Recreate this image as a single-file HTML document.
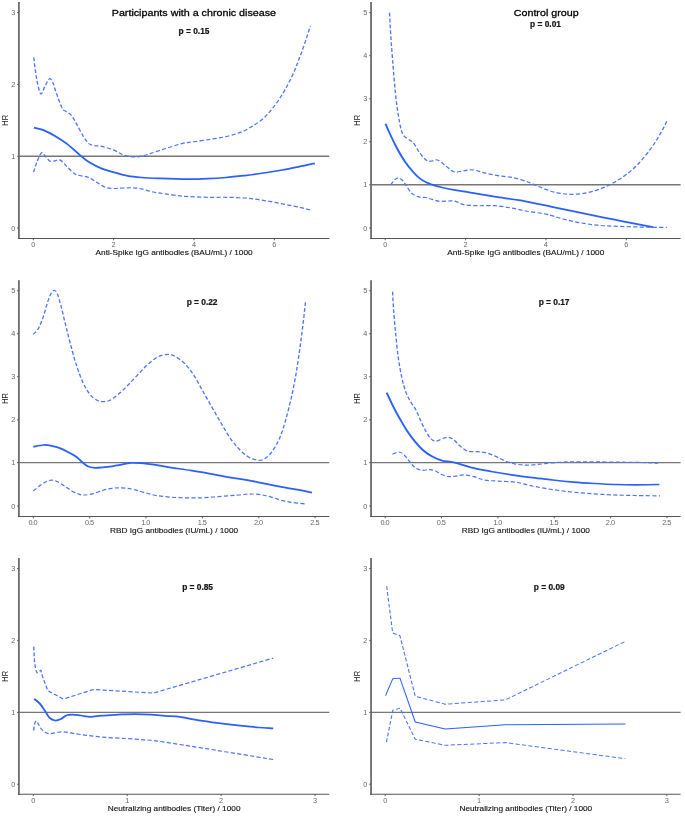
<!DOCTYPE html>
<html lang="en">
<head>
<meta charset="utf-8">
<title>HR by antibody level</title>
<style>
html,body{margin:0;padding:0;background:#fff;}
body{width:685px;height:817px;overflow:hidden;font-family:"Liberation Sans", sans-serif;}
svg{display:block;font-family:"Liberation Sans", sans-serif;will-change:transform;}
svg text{font-family:"Liberation Sans", sans-serif;}
</style>
</head>
<body>
<svg width="685" height="817" viewBox="0 0 685 817">
<rect width="685" height="817" fill="#ffffff"/>
<g transform="scale(1.1,1)">
<g><line x1="17.18" y1="156.3" x2="299.36" y2="156.3" stroke="#767676" stroke-width="1.4"/>
<path d="M30.7,57.5 C31.1,60.9 32.1,72.0 33.2,78.0 C34.2,84.0 35.7,92.5 37.0,93.8 C38.3,95.1 39.6,88.5 40.9,86.0 C42.3,83.5 43.9,79.2 45.1,78.7 C46.3,78.2 47.2,80.7 48.2,83.0 C49.2,85.3 49.7,88.6 51.1,92.7 C52.5,96.8 54.9,104.7 56.4,107.8 C57.8,110.9 58.6,110.3 60.0,111.5 C61.4,112.7 63.0,113.0 64.5,114.9 C66.1,116.8 67.3,119.6 69.2,123.1 C71.0,126.6 73.6,132.5 75.5,135.9 C77.5,139.3 79.1,142.0 80.8,143.6 C82.6,145.2 84.1,145.2 86.1,145.7 C88.0,146.2 89.7,145.7 92.5,146.4 C95.4,147.1 99.9,148.5 103.1,149.9 C106.3,151.3 108.8,153.4 111.6,154.6 C114.5,155.8 117.3,156.6 120.1,156.9 C122.9,157.2 125.8,156.8 128.6,156.2 C131.5,155.6 133.6,154.6 137.1,153.4 C140.6,152.2 145.1,150.4 149.8,148.8 C154.5,147.2 160.8,144.8 165.2,143.6 C169.5,142.4 171.6,142.5 175.8,141.8 C180.1,141.1 185.7,140.3 190.6,139.4 C195.6,138.5 200.9,137.8 205.5,136.6 C210.2,135.4 214.4,134.1 218.3,132.4 C222.2,130.7 225.4,128.9 228.9,126.6 C232.4,124.3 236.3,121.5 239.5,118.4 C242.6,115.3 245.2,111.7 248.0,107.9 C250.8,104.1 253.6,99.7 256.0,95.5 C258.4,91.3 260.4,87.2 262.4,83.0 C264.3,78.8 266.3,74.4 267.8,70.5 C269.4,66.6 270.2,64.0 271.6,59.7 C273.1,55.4 274.9,50.4 276.6,44.8 C278.4,39.1 281.3,29.0 282.2,25.8" fill="none" stroke="#4a74ff" stroke-width="1.2" stroke-dasharray="3.8 2.1" stroke-linejoin="round"/>
<path d="M30.5,172.1 C31.1,170.4 32.4,165.2 33.6,162.0 C34.8,158.8 36.4,153.7 37.7,152.8 C39.0,151.9 40.1,155.1 41.4,156.5 C42.7,157.9 44.0,160.5 45.5,161.2 C46.9,161.9 48.5,161.0 50.0,160.8 C51.5,160.6 52.8,159.0 54.5,159.9 C56.3,160.8 58.4,164.0 60.6,166.3 C62.9,168.7 65.8,172.4 68.1,174.0 C70.3,175.6 72.0,175.3 74.1,175.9 C76.2,176.5 78.5,176.4 80.8,177.5 C83.2,178.6 85.8,181.0 88.3,182.6 C90.8,184.2 93.3,186.3 95.7,187.3 C98.2,188.3 100.4,188.4 103.1,188.5 C105.7,188.6 108.6,188.1 111.6,188.0 C114.7,187.9 118.3,187.7 121.2,187.8 C124.0,188.0 125.6,188.2 128.6,188.9 C131.6,189.6 135.7,191.2 139.2,192.0 C142.7,192.8 145.7,193.2 149.8,193.8 C153.9,194.5 160.0,195.4 163.6,195.9 C167.3,196.4 167.4,196.4 171.5,196.6 C175.7,196.8 182.9,197.2 188.5,197.3 C194.2,197.4 199.9,197.2 205.5,197.3 C211.2,197.4 217.5,197.6 222.5,198.0 C227.4,198.4 231.0,199.0 235.3,199.7 C239.5,200.4 243.8,201.2 248.0,202.0 C252.2,202.8 256.5,203.9 260.7,204.8 C265.0,205.7 269.9,206.7 273.5,207.6 C277.0,208.5 280.6,209.6 282.0,210.0" fill="none" stroke="#4a74ff" stroke-width="1.2" stroke-dasharray="3.8 2.1" stroke-linejoin="round"/>
<path d="M30.9,127.7 C32.3,128.1 36.3,128.7 39.5,130.1 C42.6,131.5 46.5,133.7 50.0,135.9 C53.5,138.2 56.7,140.3 60.6,143.6 C64.5,146.9 69.8,152.6 73.4,155.8 C76.9,159.0 78.7,160.7 81.9,162.8 C85.1,164.9 89.0,167.1 92.5,168.6 C96.1,170.1 99.2,170.9 103.1,172.1 C107.0,173.3 111.7,175.0 115.9,175.9 C120.2,176.8 123.7,177.1 128.6,177.5 C133.6,177.9 138.5,178.1 145.6,178.4 C152.8,178.7 164.4,179.1 171.5,179.2 C178.7,179.2 182.9,179.0 188.5,178.7 C194.2,178.4 199.9,178.0 205.5,177.5 C211.2,177.0 216.8,176.3 222.5,175.6 C228.1,174.8 233.8,173.9 239.5,173.0 C245.1,172.1 251.1,171.0 256.5,170.0 C261.8,169.0 266.4,167.9 271.4,166.8 C276.3,165.7 283.7,163.9 286.2,163.3" fill="none" stroke="#2b60ff" stroke-width="1.75" stroke-linejoin="round" stroke-linecap="butt"/>
<line x1="17.18" y1="2.0" x2="17.18" y2="239.03" stroke="#6c6c6c" stroke-width="1.636"/>
<line x1="16.36" y1="238.5" x2="299.36" y2="238.5" stroke="#545454" stroke-width="1.05"/>
<line x1="15.55" y1="12.6" x2="17.18" y2="12.6" stroke="#545454" stroke-width="0.9"/>
<line x1="15.55" y1="84.4" x2="17.18" y2="84.4" stroke="#545454" stroke-width="0.9"/>
<line x1="15.55" y1="156.3" x2="17.18" y2="156.3" stroke="#545454" stroke-width="0.9"/>
<line x1="15.55" y1="227.95" x2="17.18" y2="227.95" stroke="#545454" stroke-width="0.9"/>
<line x1="30.27" y1="238.5" x2="30.27" y2="240.3" stroke="#545454" stroke-width="0.9"/>
<line x1="103.27" y1="238.5" x2="103.27" y2="240.3" stroke="#545454" stroke-width="0.9"/>
<line x1="176.36" y1="238.5" x2="176.36" y2="240.3" stroke="#545454" stroke-width="0.9"/>
<line x1="249.45" y1="238.5" x2="249.45" y2="240.3" stroke="#545454" stroke-width="0.9"/>
<text x="158.27" y="255.0" text-anchor="middle" font-size="7.52" fill="#111" stroke="#111" stroke-width="0.12">Anti-Spike IgG antibodies (BAU/mL) / 1000</text>
<text transform="translate(6.82,120.2) rotate(-90)" text-anchor="middle" font-size="7.52" fill="#1a1a1a">HR</text>
<text x="176.27" y="16.3" text-anchor="middle" font-size="9.75" fill="#000" stroke="#000" stroke-width="0.28">Participants with a chronic disease</text></g>
<g><line x1="337.32" y1="184.8" x2="618.73" y2="184.8" stroke="#767676" stroke-width="1.4"/>
<path d="M354.1,12.8 C354.3,16.5 354.7,26.2 355.2,35.0 C355.7,43.8 356.6,55.7 357.3,65.4 C358.0,75.1 358.7,85.2 359.5,93.4 C360.2,101.6 361.1,108.5 362.0,114.5 C362.9,120.5 363.7,125.9 364.7,129.6 C365.7,133.3 366.1,134.5 367.9,136.7 C369.7,138.8 373.1,139.8 375.4,142.5 C377.7,145.2 379.6,150.0 381.7,153.0 C383.8,156.0 386.3,159.4 388.1,160.7 C389.9,162.0 391.1,161.1 392.7,161.0 C394.3,160.9 395.8,159.4 397.6,160.0 C399.5,160.6 401.5,162.8 404.0,164.7 C406.5,166.6 409.7,170.6 412.5,171.7 C415.4,172.8 418.2,171.3 421.0,171.0 C423.8,170.7 426.3,169.5 429.5,169.8 C432.6,170.1 436.2,171.9 440.1,172.9 C444.0,173.9 448.6,174.9 452.8,175.7 C457.1,176.5 461.0,176.4 465.6,177.5 C470.3,178.6 476.2,180.5 480.8,182.3 C485.4,184.1 489.1,186.5 493.3,188.2 C497.4,189.9 501.6,191.6 505.7,192.6 C509.9,193.6 514.1,194.2 518.3,194.3 C522.4,194.4 526.6,194.0 530.7,193.3 C534.9,192.6 539.0,191.5 543.2,189.9 C547.3,188.3 551.5,186.4 555.6,184.0 C559.8,181.6 564.0,178.9 568.2,175.5 C572.3,172.1 576.5,168.4 580.6,163.5 C584.8,158.6 589.7,151.5 593.1,146.3 C596.5,141.2 598.7,136.8 600.9,132.6 C603.1,128.4 605.3,123.2 606.2,121.3" fill="none" stroke="#4a74ff" stroke-width="1.2" stroke-dasharray="3.8 2.1" stroke-linejoin="round"/>
<path d="M355.3,184.8 C355.8,184.0 357.5,181.2 358.6,180.0 C359.8,178.8 361.0,177.8 362.1,177.8 C363.2,177.8 364.3,178.8 365.5,180.0 C366.6,181.2 367.3,182.6 368.8,184.8 C370.3,187.0 372.4,191.4 374.4,193.4 C376.3,195.4 378.6,196.2 380.7,196.9 C382.8,197.6 385.0,197.1 387.1,197.5 C389.2,197.9 391.4,199.0 393.5,199.6 C395.7,200.2 397.5,201.1 399.9,201.3 C402.3,201.5 405.4,201.0 407.8,201.0 C410.2,201.0 411.9,200.7 414.2,201.3 C416.5,201.9 418.2,203.9 421.5,204.6 C424.8,205.3 429.3,205.5 434.0,205.7 C438.7,205.9 444.4,205.3 449.6,205.7 C454.8,206.1 460.0,207.1 465.2,208.1 C470.4,209.1 475.6,210.5 480.8,211.5 C486.0,212.5 491.3,212.9 496.5,214.2 C501.7,215.4 506.8,217.6 512.0,219.0 C517.2,220.4 522.4,221.8 527.6,222.8 C532.8,223.8 538.0,224.6 543.2,225.2 C548.4,225.8 553.1,225.9 558.8,226.2 C564.5,226.5 571.7,226.7 577.5,226.9 C583.2,227.1 588.3,227.2 593.1,227.3 C597.9,227.4 604.0,227.3 606.2,227.3" fill="none" stroke="#4a74ff" stroke-width="1.2" stroke-dasharray="3.8 2.1" stroke-linejoin="round"/>
<path d="M350.5,123.8 C351.2,125.8 353.3,131.2 355.2,135.5 C357.0,139.8 359.4,145.2 361.5,149.5 C363.7,153.8 365.6,157.5 367.9,161.2 C370.2,164.9 372.9,168.7 375.4,171.7 C377.8,174.7 380.2,177.3 382.8,179.4 C385.5,181.5 388.1,182.8 391.3,184.1 C394.5,185.4 398.4,186.6 401.9,187.5 C405.5,188.4 408.2,189.0 412.5,189.8 C416.9,190.7 421.6,191.4 427.8,192.6 C434.0,193.8 442.4,195.4 449.6,196.7 C456.9,198.0 464.2,198.8 471.5,200.2 C478.7,201.5 486.0,203.2 493.3,204.8 C500.5,206.4 507.8,208.2 515.1,209.9 C522.4,211.6 529.7,213.3 537.0,214.9 C544.3,216.5 551.5,218.1 558.8,219.7 C566.1,221.3 574.8,223.1 580.6,224.3 C586.5,225.5 591.5,226.6 593.7,227.1" fill="none" stroke="#2b60ff" stroke-width="1.75" stroke-linejoin="round" stroke-linecap="butt"/>
<line x1="337.32" y1="2.0" x2="337.32" y2="239.03" stroke="#6c6c6c" stroke-width="1.636"/>
<line x1="336.50" y1="238.5" x2="618.73" y2="238.5" stroke="#545454" stroke-width="1.05"/>
<line x1="335.68" y1="12.6" x2="337.32" y2="12.6" stroke="#545454" stroke-width="0.9"/>
<line x1="335.68" y1="55.65" x2="337.32" y2="55.65" stroke="#545454" stroke-width="0.9"/>
<line x1="335.68" y1="98.7" x2="337.32" y2="98.7" stroke="#545454" stroke-width="0.9"/>
<line x1="335.68" y1="141.75" x2="337.32" y2="141.75" stroke="#545454" stroke-width="0.9"/>
<line x1="335.68" y1="184.8" x2="337.32" y2="184.8" stroke="#545454" stroke-width="0.9"/>
<line x1="335.68" y1="227.95" x2="337.32" y2="227.95" stroke="#545454" stroke-width="0.9"/>
<line x1="350.18" y1="238.5" x2="350.18" y2="240.3" stroke="#545454" stroke-width="0.9"/>
<line x1="423.27" y1="238.5" x2="423.27" y2="240.3" stroke="#545454" stroke-width="0.9"/>
<line x1="496.27" y1="238.5" x2="496.27" y2="240.3" stroke="#545454" stroke-width="0.9"/>
<line x1="569.36" y1="238.5" x2="569.36" y2="240.3" stroke="#545454" stroke-width="0.9"/>
<text x="478.02" y="255.0" text-anchor="middle" font-size="7.52" fill="#111" stroke="#111" stroke-width="0.12">Anti-Spike IgG antibodies (BAU/mL) / 1000</text>
<text transform="translate(326.95,120.2) rotate(-90)" text-anchor="middle" font-size="7.52" fill="#1a1a1a">HR</text>
<text x="496.55" y="16.3" text-anchor="middle" font-size="9.75" fill="#000" stroke="#000" stroke-width="0.28">Control group</text></g>
<g><line x1="17.18" y1="462.65" x2="299.36" y2="462.65" stroke="#767676" stroke-width="1.4"/>
<path d="M30.3,334.4 C31.1,333.3 33.7,330.9 35.2,327.9 C36.7,324.9 38.0,320.7 39.5,316.2 C40.9,311.7 42.4,304.9 43.6,301.0 C44.9,297.1 45.9,294.6 46.8,292.8 C47.8,291.1 48.5,290.3 49.4,290.5 C50.3,290.7 51.2,291.5 52.2,294.0 C53.2,296.5 54.1,300.6 55.4,305.7 C56.6,310.8 58.1,318.2 59.5,324.4 C61.0,330.6 62.2,336.5 63.8,343.1 C65.4,349.7 67.2,357.5 69.2,364.1 C71.1,370.7 73.4,377.7 75.5,382.8 C77.7,387.9 79.8,391.6 81.9,394.5 C84.0,397.4 86.3,399.1 88.3,400.3 C90.2,401.5 91.6,401.7 93.5,401.7 C95.5,401.7 97.6,401.5 99.9,400.3 C102.2,399.1 104.7,396.9 107.4,394.5 C110.0,392.1 113.1,388.7 115.9,385.6 C118.7,382.5 121.5,379.1 124.4,375.8 C127.2,372.5 130.0,368.9 132.8,366.0 C135.7,363.1 138.9,360.1 141.4,358.3 C143.8,356.5 145.8,355.9 147.7,355.2 C149.7,354.5 151.2,354.2 153.0,354.3 C154.8,354.4 156.0,354.5 158.4,355.9 C160.7,357.3 164.4,359.8 167.3,362.9 C170.2,366.0 173.0,369.9 175.8,374.6 C178.7,379.3 181.5,385.6 184.3,391.0 C187.1,396.4 189.9,401.9 192.7,407.3 C195.6,412.8 198.4,418.4 201.3,423.7 C204.1,428.9 206.9,434.4 209.7,438.8 C212.6,443.2 215.4,447.0 218.3,450.1 C221.1,453.2 223.9,455.8 226.7,457.5 C229.6,459.2 232.8,460.2 235.3,460.3 C237.8,460.4 239.5,459.6 241.6,458.0 C243.8,456.4 245.9,453.9 248.0,450.5 C250.1,447.1 252.4,442.8 254.4,437.7 C256.3,432.6 257.9,427.0 259.6,420.2 C261.4,413.4 263.4,404.6 265.0,396.8 C266.6,389.0 268.0,381.2 269.2,373.4 C270.4,365.6 271.4,357.9 272.4,350.1 C273.4,342.3 274.3,334.7 275.2,326.7 C276.1,318.7 277.3,306.3 277.7,302.2" fill="none" stroke="#4a74ff" stroke-width="1.2" stroke-dasharray="3.8 2.1" stroke-linejoin="round"/>
<path d="M30.3,490.9 C31.3,490.0 34.7,486.9 36.6,485.3 C38.6,483.7 40.5,482.4 42.2,481.5 C43.9,480.6 45.3,480.1 47.0,480.1 C48.7,480.2 50.6,480.8 52.5,481.8 C54.5,482.8 56.8,484.7 58.9,486.2 C61.0,487.7 63.2,489.6 65.3,490.9 C67.4,492.2 69.8,493.4 71.6,494.1 C73.5,494.8 74.6,495.0 76.5,495.0 C78.3,495.0 80.7,494.6 82.8,494.1 C84.9,493.6 87.1,492.7 89.2,492.0 C91.3,491.3 93.4,490.3 95.5,489.7 C97.7,489.1 99.9,488.6 101.9,488.3 C103.9,488.0 105.3,487.8 107.5,487.8 C109.6,487.8 112.3,487.9 114.8,488.2 C117.3,488.5 119.5,488.9 122.3,489.7 C125.1,490.4 128.1,491.7 131.5,492.7 C135.0,493.7 138.7,494.9 142.7,495.6 C146.8,496.4 151.4,496.8 155.7,497.2 C160.1,497.6 164.4,497.7 168.7,497.8 C173.1,497.9 177.4,497.9 181.7,497.8 C186.1,497.7 190.4,497.3 194.7,497.0 C199.1,496.7 204.0,496.1 207.7,495.8 C211.5,495.5 214.2,495.3 217.1,495.0 C220.0,494.7 222.3,494.2 225.0,494.1 C227.7,494.0 230.3,493.9 233.0,494.1 C235.7,494.3 238.3,494.9 240.9,495.5 C243.6,496.1 246.2,497.0 248.9,497.9 C251.6,498.8 254.3,499.9 256.9,500.6 C259.6,501.3 262.2,501.8 264.8,502.3 C267.5,502.8 270.6,503.1 272.8,503.4 C275.0,503.7 277.1,504.0 277.9,504.1" fill="none" stroke="#4a74ff" stroke-width="1.2" stroke-dasharray="3.8 2.1" stroke-linejoin="round"/>
<path d="M30.3,446.9 C31.8,446.6 36.7,445.1 39.6,445.0 C42.6,444.9 45.3,445.5 47.9,446.1 C50.6,446.7 53.0,447.5 55.5,448.6 C58.1,449.7 60.9,451.5 63.3,452.9 C65.6,454.3 67.7,455.5 69.6,457.0 C71.5,458.5 73.0,460.4 74.6,462.0 C76.3,463.6 77.7,465.3 79.6,466.3 C81.5,467.3 83.5,467.7 86.1,467.8 C88.7,467.9 92.2,467.4 95.1,467.1 C98.0,466.8 100.9,466.5 103.3,466.1 C105.6,465.7 106.7,465.4 109.3,464.9 C111.8,464.4 115.4,463.2 118.5,462.9 C121.7,462.6 123.9,462.7 127.9,463.1 C131.9,463.5 138.1,464.4 142.7,465.1 C147.4,465.9 150.5,466.7 155.7,467.6 C161.0,468.5 168.2,469.6 174.4,470.7 C180.6,471.8 186.7,472.9 192.9,474.1 C199.1,475.3 206.1,476.8 211.5,477.8 C216.8,478.8 220.1,479.1 225.0,480.1 C229.9,481.1 235.6,482.4 240.9,483.6 C246.2,484.8 251.6,486.0 256.9,487.1 C262.2,488.2 268.4,489.3 272.8,490.2 C277.3,491.1 281.8,492.3 283.6,492.7" fill="none" stroke="#2b60ff" stroke-width="1.75" stroke-linejoin="round" stroke-linecap="butt"/>
<line x1="17.18" y1="280.2" x2="17.18" y2="517.02" stroke="#6c6c6c" stroke-width="1.636"/>
<line x1="16.36" y1="516.5" x2="299.36" y2="516.5" stroke="#545454" stroke-width="1.05"/>
<line x1="15.55" y1="290.7" x2="17.18" y2="290.7" stroke="#545454" stroke-width="0.9"/>
<line x1="15.55" y1="333.7" x2="17.18" y2="333.7" stroke="#545454" stroke-width="0.9"/>
<line x1="15.55" y1="376.7" x2="17.18" y2="376.7" stroke="#545454" stroke-width="0.9"/>
<line x1="15.55" y1="419.8" x2="17.18" y2="419.8" stroke="#545454" stroke-width="0.9"/>
<line x1="15.55" y1="462.65" x2="17.18" y2="462.65" stroke="#545454" stroke-width="0.9"/>
<line x1="15.55" y1="505.95" x2="17.18" y2="505.95" stroke="#545454" stroke-width="0.9"/>
<line x1="30.27" y1="516.5" x2="30.27" y2="518.3" stroke="#545454" stroke-width="0.9"/>
<line x1="81.55" y1="516.5" x2="81.55" y2="518.3" stroke="#545454" stroke-width="0.9"/>
<line x1="132.73" y1="516.5" x2="132.73" y2="518.3" stroke="#545454" stroke-width="0.9"/>
<line x1="184.00" y1="516.5" x2="184.00" y2="518.3" stroke="#545454" stroke-width="0.9"/>
<line x1="235.27" y1="516.5" x2="235.27" y2="518.3" stroke="#545454" stroke-width="0.9"/>
<line x1="286.45" y1="516.5" x2="286.45" y2="518.3" stroke="#545454" stroke-width="0.9"/>
<text x="158.27" y="533.0" text-anchor="middle" font-size="7.52" fill="#111" stroke="#111" stroke-width="0.12">RBD IgG antibodies (IU/mL) / 1000</text>
<text transform="translate(6.82,398.4) rotate(-90)" text-anchor="middle" font-size="7.52" fill="#1a1a1a">HR</text></g>
<g><line x1="337.32" y1="462.65" x2="618.73" y2="462.65" stroke="#767676" stroke-width="1.4"/>
<path d="M356.9,291.7 C357.0,294.4 357.3,301.4 357.7,308.0 C358.2,314.6 358.7,323.2 359.5,331.4 C360.2,339.6 361.0,349.3 362.0,357.1 C363.0,364.9 364.2,372.3 365.4,378.1 C366.5,383.9 367.7,388.2 369.0,392.1 C370.3,396.0 371.6,398.4 373.2,401.5 C374.8,404.6 377.0,407.5 378.5,410.8 C380.1,414.1 381.3,418.1 382.7,421.5 C384.2,424.9 385.7,428.6 387.3,431.5 C388.8,434.4 390.3,437.3 391.9,438.9 C393.5,440.5 394.9,441.3 396.7,441.2 C398.6,441.1 401.2,438.8 403.1,438.2 C404.9,437.6 406.2,437.1 407.8,437.4 C409.4,437.7 410.9,438.5 412.6,439.9 C414.4,441.3 416.1,444.1 418.2,446.0 C420.3,447.9 422.7,450.2 425.3,451.2 C427.9,452.1 430.9,451.4 433.7,451.7 C436.6,452.0 439.4,452.1 442.3,452.9 C445.1,453.7 447.9,455.0 450.7,456.4 C453.6,457.8 456.4,459.8 459.3,461.0 C462.1,462.2 464.9,463.1 467.7,463.8 C470.5,464.5 473.5,464.8 476.2,465.0 C478.8,465.2 480.8,465.2 483.6,465.0 C486.5,464.8 489.6,464.3 493.3,463.9 C497.0,463.5 501.6,462.8 505.7,462.5 C509.9,462.2 512.5,462.0 518.3,461.9 C524.0,461.8 532.3,461.8 540.1,461.9 C547.9,461.9 557.7,462.1 565.0,462.2 C572.3,462.3 578.2,462.3 583.7,462.5 C589.3,462.7 595.9,463.1 598.4,463.2" fill="none" stroke="#4a74ff" stroke-width="1.2" stroke-dasharray="3.8 2.1" stroke-linejoin="round"/>
<path d="M356.9,454.1 C357.8,453.8 360.7,451.9 362.5,452.0 C364.2,452.1 365.5,453.0 367.2,454.7 C368.9,456.4 371.1,460.0 372.8,462.2 C374.5,464.4 375.7,466.4 377.5,467.8 C379.4,469.2 381.8,470.1 383.9,470.4 C386.0,470.7 388.3,469.5 390.3,469.6 C392.3,469.7 394.0,470.2 395.9,471.0 C397.8,471.8 399.5,473.6 401.5,474.5 C403.4,475.4 405.7,476.3 407.8,476.6 C409.9,476.9 411.9,476.5 414.2,476.2 C416.5,475.9 418.8,474.8 421.5,474.9 C424.3,475.0 427.8,475.8 430.9,476.6 C434.0,477.5 436.6,479.2 440.3,480.0 C443.9,480.8 448.0,480.8 452.7,481.1 C457.4,481.5 463.7,481.4 468.4,482.1 C473.0,482.8 476.1,484.1 480.8,485.2 C485.5,486.3 490.7,487.6 496.5,488.6 C502.2,489.6 508.9,490.6 515.1,491.4 C521.3,492.2 527.1,492.8 533.8,493.4 C540.6,494.0 548.4,494.4 555.6,494.8 C562.9,495.2 570.1,495.3 577.5,495.5 C584.8,495.7 596.2,495.8 600.0,495.8" fill="none" stroke="#4a74ff" stroke-width="1.2" stroke-dasharray="3.8 2.1" stroke-linejoin="round"/>
<path d="M351.5,392.6 C352.5,394.9 355.3,401.7 357.3,406.1 C359.3,410.5 361.5,414.9 363.6,419.0 C365.8,423.1 367.7,426.9 370.0,430.7 C372.3,434.5 375.0,438.6 377.5,441.9 C379.9,445.2 382.3,448.0 384.9,450.5 C387.6,453.0 390.5,455.1 393.4,456.8 C396.2,458.5 398.7,459.7 401.9,460.6 C405.1,461.5 408.2,461.3 412.5,462.4 C416.9,463.5 422.2,465.8 427.8,467.3 C433.5,468.8 440.3,470.2 446.5,471.5 C452.8,472.8 459.0,473.9 465.2,474.9 C471.4,475.9 477.7,476.8 483.9,477.6 C490.2,478.5 496.4,479.2 502.6,480.0 C508.9,480.8 515.1,481.5 521.4,482.1 C527.6,482.7 533.8,483.1 540.1,483.5 C546.3,483.9 552.6,484.3 558.8,484.5 C565.0,484.7 570.7,484.8 577.5,484.8 C584.2,484.8 595.7,484.6 599.4,484.5" fill="none" stroke="#2b60ff" stroke-width="1.75" stroke-linejoin="round" stroke-linecap="butt"/>
<line x1="337.32" y1="280.2" x2="337.32" y2="517.02" stroke="#6c6c6c" stroke-width="1.636"/>
<line x1="336.50" y1="516.5" x2="618.73" y2="516.5" stroke="#545454" stroke-width="1.05"/>
<line x1="335.68" y1="290.7" x2="337.32" y2="290.7" stroke="#545454" stroke-width="0.9"/>
<line x1="335.68" y1="333.7" x2="337.32" y2="333.7" stroke="#545454" stroke-width="0.9"/>
<line x1="335.68" y1="376.7" x2="337.32" y2="376.7" stroke="#545454" stroke-width="0.9"/>
<line x1="335.68" y1="419.8" x2="337.32" y2="419.8" stroke="#545454" stroke-width="0.9"/>
<line x1="335.68" y1="462.65" x2="337.32" y2="462.65" stroke="#545454" stroke-width="0.9"/>
<line x1="335.68" y1="505.95" x2="337.32" y2="505.95" stroke="#545454" stroke-width="0.9"/>
<line x1="350.18" y1="516.5" x2="350.18" y2="518.3" stroke="#545454" stroke-width="0.9"/>
<line x1="401.36" y1="516.5" x2="401.36" y2="518.3" stroke="#545454" stroke-width="0.9"/>
<line x1="452.64" y1="516.5" x2="452.64" y2="518.3" stroke="#545454" stroke-width="0.9"/>
<line x1="503.82" y1="516.5" x2="503.82" y2="518.3" stroke="#545454" stroke-width="0.9"/>
<line x1="555.09" y1="516.5" x2="555.09" y2="518.3" stroke="#545454" stroke-width="0.9"/>
<line x1="606.36" y1="516.5" x2="606.36" y2="518.3" stroke="#545454" stroke-width="0.9"/>
<text x="478.02" y="533.0" text-anchor="middle" font-size="7.52" fill="#111" stroke="#111" stroke-width="0.12">RBD IgG antibodies (IU/mL) / 1000</text>
<text transform="translate(326.95,398.4) rotate(-90)" text-anchor="middle" font-size="7.52" fill="#1a1a1a">HR</text></g>
<g><line x1="17.18" y1="712.4" x2="299.36" y2="712.4" stroke="#767676" stroke-width="1.4"/>
<path d="M30.7,646.6 L31.3,660.2 L32.3,668.9 L33.6,672.9 L37.1,670.2 L38.6,676.4 L43.5,690.7 L57.5,699.1 L84.8,689.5 L139.4,693.1 L248.4,658.1" fill="none" stroke="#4a74ff" stroke-width="1.2" stroke-dasharray="3.8 2.1" stroke-linejoin="round"/>
<path d="M30.6,730.5 C30.8,729.4 31.0,725.6 31.5,724.0 C31.9,722.4 32.5,721.0 33.1,721.0 C33.7,721.0 34.2,722.9 35.0,724.3 C35.8,725.7 36.6,728.0 38.1,729.6 C39.6,731.2 41.8,733.1 44.0,733.6 C46.2,734.1 48.8,732.9 51.0,732.6 C53.2,732.3 54.8,731.7 57.5,731.8 C60.1,731.9 63.2,732.8 66.9,733.4 C70.6,734.0 74.9,734.9 79.6,735.5 C84.4,736.1 89.9,736.8 95.5,737.3 C101.2,737.8 108.2,738.1 113.7,738.5 C119.2,738.9 124.4,739.2 128.6,739.6 C132.9,740.0 133.5,739.8 139.4,740.6 C145.2,741.4 145.5,741.4 163.6,744.5 C181.8,747.6 234.2,757.0 248.4,759.5" fill="none" stroke="#4a74ff" stroke-width="1.2" stroke-dasharray="3.8 2.1" stroke-linejoin="round"/>
<path d="M31.0,698.8 C31.9,699.6 34.5,701.6 36.2,703.6 C37.8,705.6 39.4,708.5 40.9,710.9 C42.4,713.3 43.6,716.3 45.2,717.9 C46.7,719.5 48.5,720.3 50.2,720.5 C51.9,720.7 53.5,719.9 55.3,719.0 C57.0,718.1 58.9,716.0 60.6,715.3 C62.4,714.5 63.7,714.5 65.9,714.5 C68.1,714.5 70.9,715.1 73.6,715.5 C76.4,715.9 79.1,716.8 82.3,716.8 C85.4,716.8 88.4,716.0 92.5,715.6 C96.7,715.2 102.4,714.9 107.4,714.6 C112.3,714.4 117.3,714.1 122.3,714.1 C127.2,714.1 132.5,714.3 137.1,714.6 C141.7,714.9 145.4,715.4 149.8,715.8 C154.2,716.2 159.3,716.3 163.6,716.9 C168.0,717.5 170.3,718.3 175.8,719.3 C181.4,720.3 189.9,721.8 197.0,722.8 C204.1,723.8 211.9,724.8 218.3,725.6 C224.7,726.4 230.3,727.0 235.3,727.5 C240.3,728.0 246.2,728.2 248.4,728.4" fill="none" stroke="#2b60ff" stroke-width="1.75" stroke-linejoin="round" stroke-linecap="butt"/>
<line x1="17.18" y1="558.1" x2="17.18" y2="794.82" stroke="#6c6c6c" stroke-width="1.636"/>
<line x1="16.36" y1="794.3" x2="299.36" y2="794.3" stroke="#545454" stroke-width="1.05"/>
<line x1="15.55" y1="568.5" x2="17.18" y2="568.5" stroke="#545454" stroke-width="0.9"/>
<line x1="15.55" y1="640.4" x2="17.18" y2="640.4" stroke="#545454" stroke-width="0.9"/>
<line x1="15.55" y1="712.4" x2="17.18" y2="712.4" stroke="#545454" stroke-width="0.9"/>
<line x1="15.55" y1="784.2" x2="17.18" y2="784.2" stroke="#545454" stroke-width="0.9"/>
<line x1="30.27" y1="794.3" x2="30.27" y2="796.1" stroke="#545454" stroke-width="0.9"/>
<line x1="115.64" y1="794.3" x2="115.64" y2="796.1" stroke="#545454" stroke-width="0.9"/>
<line x1="201.00" y1="794.3" x2="201.00" y2="796.1" stroke="#545454" stroke-width="0.9"/>
<line x1="286.36" y1="794.3" x2="286.36" y2="796.1" stroke="#545454" stroke-width="0.9"/>
<text x="158.27" y="810.8" text-anchor="middle" font-size="7.52" fill="#111" stroke="#111" stroke-width="0.12">Neutralizing antibodies (Titer) / 1000</text>
<text transform="translate(6.82,676.2) rotate(-90)" text-anchor="middle" font-size="7.52" fill="#1a1a1a">HR</text></g>
<g><line x1="337.32" y1="712.4" x2="618.73" y2="712.4" stroke="#767676" stroke-width="1.4"/>
<path d="M351.5,586.2 L357.0,633.0 L363.6,635.8 L377.5,696.3 L404.7,704.2 L459.4,699.9 L568.6,641.3" fill="none" stroke="#4a74ff" stroke-width="1.0" stroke-dasharray="3.8 2.1" stroke-linejoin="round"/>
<path d="M351.3,742.2 L357.1,710.3 L363.6,708.2 L377.5,739.2 L404.7,745.3 L459.4,742.6 L568.6,758.7" fill="none" stroke="#4a74ff" stroke-width="1.0" stroke-dasharray="3.8 2.1" stroke-linejoin="round"/>
<path d="M350.5,695.7 L357.1,678.7 L363.6,678.1 L377.5,722.0 L404.7,729.0 L459.4,724.7 L568.6,724.0" fill="none" stroke="#2b60ff" stroke-width="0.95" stroke-linejoin="round" stroke-linecap="butt"/>
<line x1="337.32" y1="558.1" x2="337.32" y2="794.82" stroke="#6c6c6c" stroke-width="1.636"/>
<line x1="336.50" y1="794.3" x2="618.73" y2="794.3" stroke="#545454" stroke-width="1.05"/>
<line x1="335.68" y1="568.5" x2="337.32" y2="568.5" stroke="#545454" stroke-width="0.9"/>
<line x1="335.68" y1="640.4" x2="337.32" y2="640.4" stroke="#545454" stroke-width="0.9"/>
<line x1="335.68" y1="712.4" x2="337.32" y2="712.4" stroke="#545454" stroke-width="0.9"/>
<line x1="335.68" y1="784.2" x2="337.32" y2="784.2" stroke="#545454" stroke-width="0.9"/>
<line x1="350.18" y1="794.3" x2="350.18" y2="796.1" stroke="#545454" stroke-width="0.9"/>
<line x1="435.55" y1="794.3" x2="435.55" y2="796.1" stroke="#545454" stroke-width="0.9"/>
<line x1="520.91" y1="794.3" x2="520.91" y2="796.1" stroke="#545454" stroke-width="0.9"/>
<line x1="606.27" y1="794.3" x2="606.27" y2="796.1" stroke="#545454" stroke-width="0.9"/>
<text x="478.02" y="810.8" text-anchor="middle" font-size="7.52" fill="#111" stroke="#111" stroke-width="0.12">Neutralizing antibodies (Titer) / 1000</text>
<text transform="translate(326.95,676.2) rotate(-90)" text-anchor="middle" font-size="7.52" fill="#1a1a1a">HR</text></g>
</g>
<g><text transform="translate(15.30,15.20) scale(1.15,1)" text-anchor="end" font-size="6.4" fill="#686868">3</text>
<text transform="translate(15.30,87.00) scale(1.15,1)" text-anchor="end" font-size="6.4" fill="#686868">2</text>
<text transform="translate(15.30,158.90) scale(1.15,1)" text-anchor="end" font-size="6.4" fill="#686868">1</text>
<text transform="translate(15.30,230.55) scale(1.15,1)" text-anchor="end" font-size="6.4" fill="#686868">0</text>
<text transform="translate(33.30,246.5) scale(1.15,1)" text-anchor="middle" font-size="6.4" letter-spacing="0" fill="#686868">0</text>
<text transform="translate(113.60,246.5) scale(1.15,1)" text-anchor="middle" font-size="6.4" letter-spacing="0" fill="#686868">2</text>
<text transform="translate(194.00,246.5) scale(1.15,1)" text-anchor="middle" font-size="6.4" letter-spacing="0" fill="#686868">4</text>
<text transform="translate(274.40,246.5) scale(1.15,1)" text-anchor="middle" font-size="6.4" letter-spacing="0" fill="#686868">6</text>
<text x="194.00" y="33.6" text-anchor="middle" font-size="8.35" font-weight="bold" fill="#161616" stroke="#161616" stroke-width="0.22">p = 0.15</text>
<text transform="translate(367.45,15.20) scale(1.15,1)" text-anchor="end" font-size="6.4" fill="#686868">5</text>
<text transform="translate(367.45,58.25) scale(1.15,1)" text-anchor="end" font-size="6.4" fill="#686868">4</text>
<text transform="translate(367.45,101.30) scale(1.15,1)" text-anchor="end" font-size="6.4" fill="#686868">3</text>
<text transform="translate(367.45,144.35) scale(1.15,1)" text-anchor="end" font-size="6.4" fill="#686868">2</text>
<text transform="translate(367.45,187.40) scale(1.15,1)" text-anchor="end" font-size="6.4" fill="#686868">1</text>
<text transform="translate(367.45,230.55) scale(1.15,1)" text-anchor="end" font-size="6.4" fill="#686868">0</text>
<text transform="translate(385.20,246.5) scale(1.15,1)" text-anchor="middle" font-size="6.4" letter-spacing="0" fill="#686868">0</text>
<text transform="translate(465.60,246.5) scale(1.15,1)" text-anchor="middle" font-size="6.4" letter-spacing="0" fill="#686868">2</text>
<text transform="translate(545.90,246.5) scale(1.15,1)" text-anchor="middle" font-size="6.4" letter-spacing="0" fill="#686868">4</text>
<text transform="translate(626.30,246.5) scale(1.15,1)" text-anchor="middle" font-size="6.4" letter-spacing="0" fill="#686868">6</text>
<text x="545.50" y="27.0" text-anchor="middle" font-size="8.35" font-weight="bold" fill="#161616" stroke="#161616" stroke-width="0.22">p = 0.01</text>
<text transform="translate(15.30,293.30) scale(1.15,1)" text-anchor="end" font-size="6.4" fill="#686868">5</text>
<text transform="translate(15.30,336.30) scale(1.15,1)" text-anchor="end" font-size="6.4" fill="#686868">4</text>
<text transform="translate(15.30,379.30) scale(1.15,1)" text-anchor="end" font-size="6.4" fill="#686868">3</text>
<text transform="translate(15.30,422.40) scale(1.15,1)" text-anchor="end" font-size="6.4" fill="#686868">2</text>
<text transform="translate(15.30,465.25) scale(1.15,1)" text-anchor="end" font-size="6.4" fill="#686868">1</text>
<text transform="translate(15.30,508.55) scale(1.15,1)" text-anchor="end" font-size="6.4" fill="#686868">0</text>
<text transform="translate(32.85,524.5) scale(1.15,1)" text-anchor="middle" font-size="6.4" letter-spacing="-0.45" fill="#686868">0.0</text>
<text transform="translate(89.25,524.5) scale(1.15,1)" text-anchor="middle" font-size="6.4" letter-spacing="-0.45" fill="#686868">0.5</text>
<text transform="translate(145.55,524.5) scale(1.15,1)" text-anchor="middle" font-size="6.4" letter-spacing="-0.45" fill="#686868">1.0</text>
<text transform="translate(201.95,524.5) scale(1.15,1)" text-anchor="middle" font-size="6.4" letter-spacing="-0.45" fill="#686868">1.5</text>
<text transform="translate(258.35,524.5) scale(1.15,1)" text-anchor="middle" font-size="6.4" letter-spacing="-0.45" fill="#686868">2.0</text>
<text transform="translate(314.65,524.5) scale(1.15,1)" text-anchor="middle" font-size="6.4" letter-spacing="-0.45" fill="#686868">2.5</text>
<text x="202.10" y="304.8" text-anchor="middle" font-size="8.35" font-weight="bold" fill="#161616" stroke="#161616" stroke-width="0.22">p = 0.22</text>
<text transform="translate(367.45,293.30) scale(1.15,1)" text-anchor="end" font-size="6.4" fill="#686868">5</text>
<text transform="translate(367.45,336.30) scale(1.15,1)" text-anchor="end" font-size="6.4" fill="#686868">4</text>
<text transform="translate(367.45,379.30) scale(1.15,1)" text-anchor="end" font-size="6.4" fill="#686868">3</text>
<text transform="translate(367.45,422.40) scale(1.15,1)" text-anchor="end" font-size="6.4" fill="#686868">2</text>
<text transform="translate(367.45,465.25) scale(1.15,1)" text-anchor="end" font-size="6.4" fill="#686868">1</text>
<text transform="translate(367.45,508.55) scale(1.15,1)" text-anchor="end" font-size="6.4" fill="#686868">0</text>
<text transform="translate(384.75,524.5) scale(1.15,1)" text-anchor="middle" font-size="6.4" letter-spacing="-0.45" fill="#686868">0.0</text>
<text transform="translate(441.05,524.5) scale(1.15,1)" text-anchor="middle" font-size="6.4" letter-spacing="-0.45" fill="#686868">0.5</text>
<text transform="translate(497.45,524.5) scale(1.15,1)" text-anchor="middle" font-size="6.4" letter-spacing="-0.45" fill="#686868">1.0</text>
<text transform="translate(553.75,524.5) scale(1.15,1)" text-anchor="middle" font-size="6.4" letter-spacing="-0.45" fill="#686868">1.5</text>
<text transform="translate(610.15,524.5) scale(1.15,1)" text-anchor="middle" font-size="6.4" letter-spacing="-0.45" fill="#686868">2.0</text>
<text transform="translate(666.55,524.5) scale(1.15,1)" text-anchor="middle" font-size="6.4" letter-spacing="-0.45" fill="#686868">2.5</text>
<text x="554.10" y="304.9" text-anchor="middle" font-size="8.35" font-weight="bold" fill="#161616" stroke="#161616" stroke-width="0.22">p = 0.17</text>
<text transform="translate(15.30,571.10) scale(1.15,1)" text-anchor="end" font-size="6.4" fill="#686868">3</text>
<text transform="translate(15.30,643.00) scale(1.15,1)" text-anchor="end" font-size="6.4" fill="#686868">2</text>
<text transform="translate(15.30,715.00) scale(1.15,1)" text-anchor="end" font-size="6.4" fill="#686868">1</text>
<text transform="translate(15.30,786.80) scale(1.15,1)" text-anchor="end" font-size="6.4" fill="#686868">0</text>
<text transform="translate(33.30,803.1) scale(1.15,1)" text-anchor="middle" font-size="6.4" letter-spacing="0" fill="#686868">0</text>
<text transform="translate(127.20,803.1) scale(1.15,1)" text-anchor="middle" font-size="6.4" letter-spacing="0" fill="#686868">1</text>
<text transform="translate(221.10,803.1) scale(1.15,1)" text-anchor="middle" font-size="6.4" letter-spacing="0" fill="#686868">2</text>
<text transform="translate(315.00,803.1) scale(1.15,1)" text-anchor="middle" font-size="6.4" letter-spacing="0" fill="#686868">3</text>
<text x="197.60" y="590.1" text-anchor="middle" font-size="8.35" font-weight="bold" fill="#161616" stroke="#161616" stroke-width="0.22">p = 0.85</text>
<text transform="translate(367.45,571.10) scale(1.15,1)" text-anchor="end" font-size="6.4" fill="#686868">3</text>
<text transform="translate(367.45,643.00) scale(1.15,1)" text-anchor="end" font-size="6.4" fill="#686868">2</text>
<text transform="translate(367.45,715.00) scale(1.15,1)" text-anchor="end" font-size="6.4" fill="#686868">1</text>
<text transform="translate(367.45,786.80) scale(1.15,1)" text-anchor="end" font-size="6.4" fill="#686868">0</text>
<text transform="translate(385.20,803.1) scale(1.15,1)" text-anchor="middle" font-size="6.4" letter-spacing="0" fill="#686868">0</text>
<text transform="translate(479.10,803.1) scale(1.15,1)" text-anchor="middle" font-size="6.4" letter-spacing="0" fill="#686868">1</text>
<text transform="translate(573.00,803.1) scale(1.15,1)" text-anchor="middle" font-size="6.4" letter-spacing="0" fill="#686868">2</text>
<text transform="translate(666.90,803.1) scale(1.15,1)" text-anchor="middle" font-size="6.4" letter-spacing="0" fill="#686868">3</text>
<text x="549.30" y="590.1" text-anchor="middle" font-size="8.35" font-weight="bold" fill="#161616" stroke="#161616" stroke-width="0.22">p = 0.09</text></g>
</svg>
</body>
</html>
